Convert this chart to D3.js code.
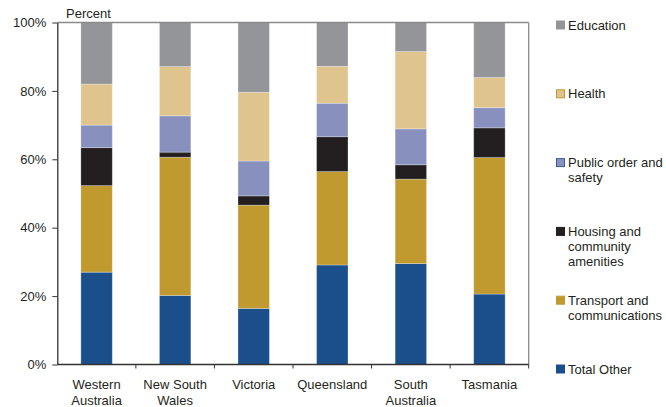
<!DOCTYPE html>
<html>
<head>
<meta charset="utf-8">
<script src="https://cdn.jsdelivr.net/npm/d3@7"></script>
<style>
  html, body { margin: 0; padding: 0; background: #fff; }
  svg { display: block; font-family: "Liberation Sans", Arial, sans-serif; }
</style>
</head>
<body>
<svg id="chart" width="666" height="407"></svg>
<script>
// States (x-axis categories), each label split over lines
const states = ["Western Australia", "New South Wales", "Victoria", "Queensland", "South Australia", "Tasmania"];
const stateLines = [["Western", "Australia"], ["New South", "Wales"], ["Victoria"], ["Queensland"], ["South", "Australia"], ["Tasmania"]];

// Spending categories, stacked bottom to top
const categories = ["Total Other", "Transport and communications", "Housing and community amenities", "Public order and safety", "Health", "Education"];

// Share of spending (per cent) for each state, in state order
const totalOther = [27.0, 20.2, 16.4, 29.1, 29.5, 20.6];
const transport  = [25.3, 40.4, 30.2, 27.3, 24.7, 39.9];
const housing    = [11.1, 1.5, 2.7, 10.2, 4.2, 8.7];
const publicOrder = [6.6, 10.6, 10.2, 9.8, 10.5, 5.9];
const health     = [12.0, 14.4, 20.1, 10.8, 22.6, 8.8];
const education  = [18.0, 12.9, 20.4, 12.8, 8.5, 16.1];

const yTicks = [0, 20, 40, 60, 80, 100];

// Legend entries (top to bottom), with wrapped lines
const legendLines = [
  ["Education"],
  ["Health"],
  ["Public order and", "safety"],
  ["Housing and", "community", "amenities"],
  ["Transport and", "communications"],
  ["Total Other"]
];
const legendKeys = ["Education", "Health", "Public order and safety", "Housing and community amenities", "Transport and communications", "Total Other"];

const seriesValues = [totalOther, transport, housing, publicOrder, health, education];
const colors = {
  "Total Other": "#1a4f8c",
  "Transport and communications": "#c09a2f",
  "Housing and community amenities": "#231f20",
  "Public order and safety": "#8891bd",
  "Health": "#dfc48e",
  "Education": "#939598"
};
const legendStroke = {
  "Total Other": "#1a4f8c",
  "Transport and communications": "#c09a2f",
  "Housing and community amenities": "#231f20",
  "Public order and safety": "#3e5a9c",
  "Health": "#c09a2f",
  "Education": "#939598"
};

const rows = states.map((s, i) => {
  const r = { state: s };
  categories.forEach((c, k) => { r[c] = seriesValues[k][i]; });
  return r;
});

const svg = d3.select("#chart");
const plot = { left: 57.3, right: 528.7, top: 22.5, bottom: 364.5 };
const textColor = "#231f20";

const x = d3.scaleBand().domain(states).range([plot.left, plot.right]).paddingInner(0.6).paddingOuter(0.3);
const xOuter = d3.scaleBand().domain(states).range([plot.left, plot.right]);
const y = d3.scaleLinear().domain([0, 100]).range([plot.bottom, plot.top]);

const stack = d3.stack().keys(categories);
const layers = stack(rows);

// Stacked bars
svg.append("g").selectAll("g")
  .data(layers)
  .join("g")
  .attr("fill", d => colors[d.key])
  .selectAll("rect")
  .data(d => d)
  .join("rect")
  .attr("x", d => x(d.data.state))
  .attr("width", x.bandwidth())
  .attr("y", d => y(d[1]))
  .attr("height", d => y(d[0]) - y(d[1]))
  .attr("stroke", "#ffffff")
  .attr("stroke-opacity", 0.35)
  .attr("stroke-width", 0.8);

// Frame: grey top and right edges
svg.append("line")
  .attr("x1", plot.left).attr("x2", plot.right)
  .attr("y1", plot.top).attr("y2", plot.top)
  .attr("stroke", "#8a8a8a").attr("stroke-width", 1.3);
svg.append("line")
  .attr("x1", plot.right).attr("x2", plot.right)
  .attr("y1", plot.top).attr("y2", plot.bottom)
  .attr("stroke", "#8a8a8a").attr("stroke-width", 1.3);

// Y axis
const yAxis = d3.axisLeft(y).tickValues(yTicks).tickFormat(d => d + "%").tickSizeInner(5).tickSizeOuter(0).tickPadding(6);
const gy = svg.append("g").attr("transform", `translate(${plot.left},0)`).call(yAxis);
gy.select(".domain").attr("stroke", "#333").attr("stroke-width", 1.3);
gy.selectAll(".tick line").attr("stroke", "#333");
gy.selectAll(".tick text").attr("fill", textColor).style("font-size", "13px").style("font-family", "Liberation Sans, Arial, sans-serif");

// X axis: ticks at category boundaries
const boundaries = states.map(s => xOuter(s)).concat([plot.right]);
const gx = svg.append("g");
gx.append("line")
  .attr("x1", plot.left).attr("x2", plot.right)
  .attr("y1", plot.bottom).attr("y2", plot.bottom)
  .attr("stroke", "#333").attr("stroke-width", 1.3);
gx.selectAll("line.tick")
  .data(boundaries.slice(1))
  .join("line")
  .attr("class", "tick")
  .attr("x1", d => d).attr("x2", d => d)
  .attr("y1", plot.bottom).attr("y2", plot.bottom + 4)
  .attr("stroke", "#333");

// X labels
const xl = svg.append("g").selectAll("text")
  .data(states)
  .join("text")
  .attr("text-anchor", "middle")
  .attr("fill", textColor)
  .style("font-size", "13px")
  .attr("x", d => xOuter(d) + xOuter.bandwidth() / 2)
  .attr("y", 389);
xl.each(function(d, i) {
  d3.select(this).selectAll("tspan")
    .data(stateLines[i])
    .join("tspan")
    .attr("x", xOuter(d) + xOuter.bandwidth() / 2)
    .attr("dy", (t, j) => j === 0 ? 0 : 16)
    .text(t => t);
});

// Y axis title
svg.append("text")
  .attr("x", 66).attr("y", 17.5)
  .attr("fill", textColor)
  .style("font-size", "13px")
  .text("Percent");

// Legend
const legendTop = 25;
const legendGap = 68.8;
const lg = svg.append("g").selectAll("g")
  .data(legendKeys)
  .join("g")
  .attr("transform", (d, i) => `translate(556,${legendTop + i * legendGap})`);
lg.append("rect")
  .attr("x", 0.5).attr("y", -4).attr("width", 8).attr("height", 8)
  .attr("fill", d => colors[d])
  .attr("stroke", d => legendStroke[d])
  .attr("stroke-width", 1);
lg.append("text")
  .attr("fill", textColor)
  .style("font-size", "13px")
  .attr("x", 12)
  .attr("y", 4.5)
  .each(function(d, i) {
    d3.select(this).selectAll("tspan")
      .data(legendLines[i])
      .join("tspan")
      .attr("x", 12)
      .attr("dy", (t, j) => j === 0 ? 0 : 15.3)
      .text(t => t);
  });
</script>
</body>
</html>
